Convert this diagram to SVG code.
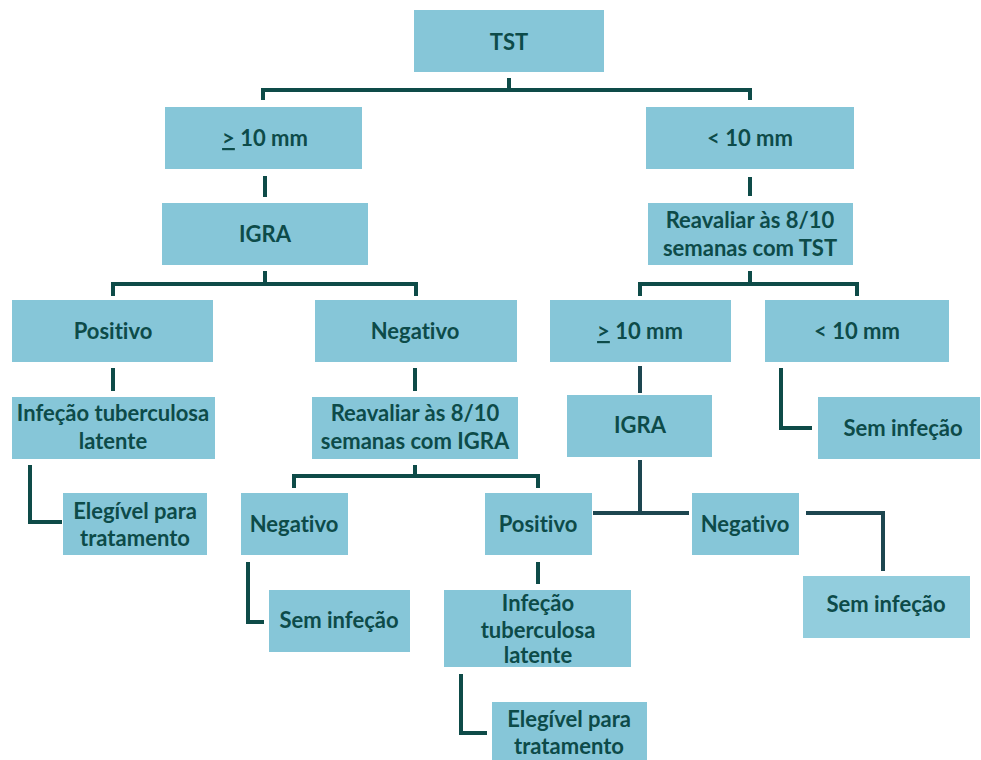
<svg xmlns="http://www.w3.org/2000/svg" width="981" height="760" viewBox="0 0 981 760">
<style>
.n rect{fill:#86C6D8;}
.n.l rect{fill:#92CDDD;}
.n text{font-family:Lato,"Open Sans",sans-serif;font-weight:bold;font-size:22px;fill:#0D4B49;text-anchor:middle;font-variant-ligatures:none;font-feature-settings:"liga" 0;}
.c path{fill:none;stroke:#0E4B48;stroke-width:4;}
.c path.b{stroke:#1D4650;}
</style>
<rect width="981" height="760" fill="#ffffff"/>
<g class="c" id="connectors">
<path d="M509 78V90M263 100V90H750V100"/>
<path d="M265 176V197"/>
<path d="M750 177V196"/>
<path d="M265 271V284M113 296V284H416V296"/>
<path d="M750 271V284M640 296V284H857V296"/>
<path d="M113 368V391"/>
<path d="M415 368V391"/>
<path class="b" d="M640 366V393"/>
<path d="M781 368V428H812"/>
<path d="M30 465V522H62"/>
<path d="M415 465V476M294 488V476H538V488"/>
<path class="b" d="M640 460V513M593 513H689"/>
<path class="b" d="M806 513H883V571"/>
<path d="M248 562V622H264"/>
<path d="M538 562V584"/>
<path d="M461 674V733H487"/>
</g>
<g class="n" id="tst"><rect x="414" y="10" width="190" height="62"/><text x="509" y="50">TST</text></g>
<g class="n" id="ge10"><rect x="165" y="107" width="197" height="62"/><text x="265" y="146"><tspan text-decoration="underline">&gt;</tspan> 10 mm</text></g>
<g class="n" id="lt10"><rect x="646" y="107" width="208" height="62"/><text x="750" y="146">&lt; 10 mm</text></g>
<g class="n" id="igra1"><rect x="162" y="203" width="206" height="62"/><text x="265" y="242">IGRA</text></g>
<g class="n" id="reavtst"><rect x="648" y="203" width="205" height="62"/><text x="750" y="228">Reavaliar às 8/10</text><text x="750" y="256">semanas com TST</text></g>
<g class="n" id="pos1"><rect x="12" y="300" width="201" height="62"/><text x="113" y="339">Positivo</text></g>
<g class="n" id="neg1"><rect x="315" y="300" width="202" height="62"/><text x="415" y="339">Negativo</text></g>
<g class="n" id="ge10b"><rect x="550" y="300" width="181" height="62"/><text x="640" y="339"><tspan text-decoration="underline">&gt;</tspan> 10 mm</text></g>
<g class="n" id="lt10b"><rect x="765" y="300" width="184" height="62"/><text x="857" y="339">&lt; 10 mm</text></g>
<g class="n" id="itl1"><rect x="12" y="397" width="203" height="62"/><text x="113" y="421">Infeção tuberculosa</text><text x="113" y="449">latente</text></g>
<g class="n" id="reavigra"><rect x="312" y="397" width="206" height="62"/><text x="415" y="421">Reavaliar às 8/10</text><text x="415" y="449">semanas com IGRA</text></g>
<g class="n" id="igra2"><rect x="567" y="395" width="145" height="62"/><text x="640" y="433">IGRA</text></g>
<g class="n" id="sem1"><rect x="818" y="397" width="162" height="62"/><text x="903" y="436">Sem infeção</text></g>
<g class="n" id="eleg1"><rect x="63" y="493" width="144" height="62"/><text x="135" y="519">Elegível para</text><text x="135" y="546">tratamento</text></g>
<g class="n" id="neg2"><rect x="241" y="493" width="107" height="62"/><text x="294" y="532">Negativo</text></g>
<g class="n" id="pos2"><rect x="485" y="493" width="107" height="62"/><text x="538" y="532">Positivo</text></g>
<g class="n" id="neg3"><rect x="692" y="493" width="107" height="62"/><text x="745" y="532">Negativo</text></g>
<g class="n l" id="sem3"><rect x="803" y="576" width="167" height="62"/><text x="886" y="612">Sem infeção</text></g>
<g class="n" id="sem2"><rect x="269" y="590" width="141" height="62"/><text x="339" y="628">Sem infeção</text></g>
<g class="n" id="itl2"><rect x="444" y="590" width="187" height="77"/><text x="538" y="611">Infeção</text><text x="538" y="638">tuberculosa</text><text x="538" y="663">latente</text></g>
<g class="n" id="eleg2"><rect x="492" y="702" width="155" height="58"/><text x="569" y="727">Elegível para</text><text x="569" y="754">tratamento</text></g>
</svg>
